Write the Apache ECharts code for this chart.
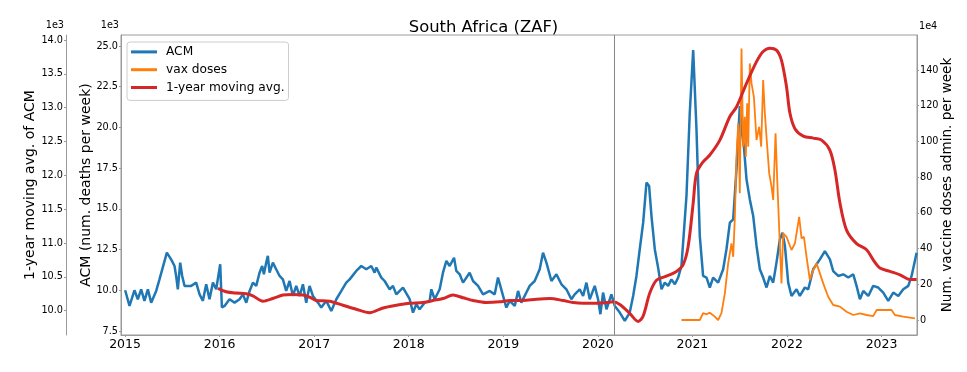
<!DOCTYPE html>
<html><head><meta charset="utf-8">
<script src="https://cdn.jsdelivr.net/npm/echarts@6/dist/echarts.min.js"></script>
<style>html,body{margin:0;padding:0;background:#fff}#c{width:967px;height:372px}</style>
</head><body><div id="c"></div>
<script>
// ---- data (dates as decimal years) ----
const acmT = [2015.001,2015.047,2015.099,2015.135,2015.170,2015.205,2015.241,2015.276,2015.329,2015.364,2015.382,2015.442,2015.487,2015.523,2015.540,2015.558,2015.583,2015.604,2015.629,2015.699,2015.752,2015.788,2015.823,2015.858,2015.893,2015.929,2015.964,2015.985,2016.006,2016.024,2016.052,2016.105,2016.158,2016.211,2016.246,2016.282,2016.317,2016.352,2016.387,2016.422,2016.450,2016.468,2016.493,2016.510,2016.528,2016.563,2016.598,2016.634,2016.669,2016.704,2016.740,2016.775,2016.810,2016.846,2016.881,2016.916,2016.951,2016.987,2017.040,2017.075,2017.128,2017.181,2017.234,2017.287,2017.339,2017.375,2017.445,2017.498,2017.551,2017.604,2017.639,2017.657,2017.710,2017.745,2017.798,2017.833,2017.868,2017.939,2018.010,2018.045,2018.080,2018.115,2018.168,2018.221,2018.239,2018.274,2018.327,2018.362,2018.398,2018.433,2018.479,2018.503,2018.539,2018.574,2018.644,2018.680,2018.733,2018.786,2018.856,2018.909,2018.944,2019.032,2019.068,2019.121,2019.156,2019.191,2019.244,2019.279,2019.332,2019.385,2019.420,2019.456,2019.509,2019.562,2019.615,2019.667,2019.720,2019.755,2019.808,2019.844,2019.879,2019.914,2019.967,2020.002,2020.027,2020.055,2020.091,2020.143,2020.179,2020.232,2020.285,2020.337,2020.373,2020.408,2020.443,2020.479,2020.514,2020.542,2020.567,2020.602,2020.637,2020.673,2020.708,2020.743,2020.778,2020.814,2020.849,2020.884,2020.937,2020.972,2021.008,2021.043,2021.078,2021.113,2021.149,2021.184,2021.219,2021.272,2021.325,2021.360,2021.396,2021.431,2021.466,2021.501,2021.519,2021.544,2021.572,2021.607,2021.643,2021.678,2021.713,2021.748,2021.784,2021.819,2021.854,2021.889,2021.925,2021.953,2021.978,2022.013,2022.048,2022.101,2022.136,2022.189,2022.225,2022.277,2022.348,2022.401,2022.454,2022.489,2022.542,2022.595,2022.648,2022.701,2022.736,2022.771,2022.807,2022.860,2022.912,2022.965,2023.018,2023.071,2023.124,2023.177,2023.230,2023.283,2023.318,2023.371];
const acmV = [10.00,9.04,10.00,9.45,10.06,9.35,10.06,9.24,9.96,10.67,10.57,12.31,11.90,11.49,10.88,10.06,11.70,10.88,10.27,10.27,10.47,9.75,9.35,10.37,9.45,10.47,10.06,9.96,11.60,8.94,9.04,9.45,9.24,9.45,9.75,9.24,9.96,10.47,10.27,11.08,11.49,10.98,11.70,12.11,11.08,11.70,11.29,10.88,10.67,9.96,10.57,9.65,10.27,9.65,10.37,9.24,10.27,9.65,9.24,8.94,9.35,8.73,9.45,9.96,10.47,10.67,11.19,11.49,11.29,11.49,11.08,11.39,10.78,10.57,10.06,10.27,9.75,10.16,9.45,8.63,9.14,8.83,9.24,9.35,10.06,9.45,10.06,11.08,11.80,11.49,12.00,11.19,10.98,10.47,11.08,10.57,10.27,9.75,9.96,9.75,10.78,8.94,9.35,9.04,9.96,9.24,9.86,10.27,10.57,11.29,12.31,11.70,10.57,10.98,10.37,10.06,9.45,9.75,10.06,9.65,10.47,9.45,10.27,9.45,8.53,9.86,8.83,9.75,9.04,8.63,8.12,8.63,9.65,10.88,12.52,14.15,16.61,16.40,14.56,12.52,11.39,10.06,10.47,10.27,10.67,10.37,10.78,11.49,15.79,20.90,24.75,19.87,13.33,10.88,10.78,10.17,10.78,10.47,11.29,12.52,14.15,14.35,17.42,21.31,19.87,18.85,16.81,15.58,14.56,12.72,11.29,10.78,10.17,10.88,10.47,11.70,13.13,13.54,12.72,10.47,9.65,10.06,9.65,10.17,10.06,11.29,11.90,12.41,11.90,11.18,10.88,10.98,10.78,10.98,10.27,9.45,9.96,9.65,10.27,10.17,9.86,9.35,9.86,9.65,10.06,10.27,10.88,12.31];

const vaxT = [2020.884,2021.078,2021.113,2021.149,2021.184,2021.237,2021.272,2021.307,2021.343,2021.378,2021.413,2021.431,2021.449,2021.466,2021.484,2021.494,2021.501,2021.519,2021.537,2021.554,2021.565,2021.579,2021.590,2021.607,2021.625,2021.650,2021.678,2021.706,2021.727,2021.748,2021.766,2021.791,2021.812,2021.837,2021.854,2021.879,2021.897,2021.918,2021.942,2021.960,2021.995,2022.048,2022.084,2022.101,2022.129,2022.154,2022.179,2022.207,2022.242,2022.277,2022.313,2022.348,2022.383,2022.436,2022.489,2022.560,2022.630,2022.701,2022.771,2022.842,2022.912,2022.948,2023.106,2023.141,2023.230,2023.353];
const vaxV = [0,0,3.8,3.2,4.1,1.9,0,3.8,14.9,31.7,42.9,35.4,57.8,91.4,110.0,91.4,71.0,152.0,97.0,113.8,91.4,121.3,97.0,143.7,132.5,125.0,100.8,108.2,97.0,134.4,115.7,97.0,82.1,74.6,67.2,104.5,78.4,50.4,20.5,48.5,46.6,39.2,42.9,48.5,57.8,45.7,46.6,35.4,22.4,28.0,31.7,26.1,20.5,13.0,8.4,7.5,4.6,2.8,3.7,2.8,2.2,5.6,5.6,2.8,1.9,0.9];

const avgT = [2015.982,2016.069,2016.175,2016.281,2016.352,2016.458,2016.563,2016.669,2016.775,2016.881,2016.951,2017.022,2017.163,2017.304,2017.445,2017.586,2017.728,2017.869,2018.010,2018.151,2018.292,2018.363,2018.468,2018.574,2018.680,2018.821,2018.962,2019.068,2019.209,2019.350,2019.491,2019.632,2019.738,2019.844,2019.985,2020.091,2020.161,2020.232,2020.337,2020.426,2020.479,2020.549,2020.620,2020.725,2020.831,2020.902,2020.955,2021.008,2021.043,2021.113,2021.184,2021.290,2021.396,2021.466,2021.572,2021.678,2021.748,2021.819,2021.889,2021.942,2021.995,2022.031,2022.084,2022.172,2022.277,2022.366,2022.454,2022.507,2022.560,2022.630,2022.736,2022.842,2022.912,2022.983,2023.089,2023.195,2023.300,2023.371];
const avgV = [10.33,10.28,10.26,10.25,10.22,10.14,10.18,10.23,10.24,10.23,10.20,10.15,10.14,10.08,10.02,9.97,10.04,10.08,10.11,10.12,10.16,10.18,10.23,10.19,10.15,10.12,10.13,10.15,10.15,10.17,10.18,10.15,10.12,10.11,10.11,10.12,10.13,10.09,9.96,9.84,9.92,10.26,10.45,10.51,10.58,10.68,10.95,11.59,12.03,12.20,12.30,12.52,12.87,13.01,13.36,13.68,13.83,13.88,13.85,13.70,13.31,12.92,12.69,12.58,12.55,12.52,12.37,12.08,11.59,11.19,10.99,10.90,10.75,10.63,10.58,10.53,10.46,10.46];

const years = [2015,2016,2017,2018,2019,2020,2021,2022,2023];
const acmTicks = [7.5,10,12.5,15,17.5,20,22.5,25];
const avgTicks = [10,10.5,11,11.5,12,12.5,13,13.5,14];
const vaxTicks = [0,20,40,60,80,100,120,140];
const covidStart = 2020.168;

function pairs(T,V){return T.map((t,i)=>[t,V[i]]);}

const FONT='DejaVu Sans';
const AX='#9a9a9a';
const TICKFS=9.7;
const chart = echarts.init(document.getElementById('c'), null, {renderer:'canvas'});
const yBase = (extra)=>Object.assign({
  type:'value', splitLine:{show:false},
  axisLine:{show:true,lineStyle:{color:AX,width:1}},
  nameLocation:'middle', nameRotate:90, nameMoveOverlap:false,
  nameTextStyle:{fontFamily:FONT,fontSize:14,color:'#000',lineHeight:14}
},extra);
const lbl = (ticks,fmt)=>({customValues:ticks,formatter:fmt,fontFamily:FONT,fontSize:TICKFS,color:'#000',margin:3});
const tk = (ticks)=>({show:true,length:2,customValues:ticks,lineStyle:{color:AX}});

chart.setOption({
  animation:false,
  backgroundColor:'#fff',
  title:{text:'South Africa (ZAF)',left:'center',top:15,
    textStyle:{fontFamily:FONT,fontSize:16.4,fontWeight:'normal',color:'#000'}},
  grid:{left:121,right:50,top:35,bottom:37,show:true,borderColor:AX,borderWidth:1,
    backgroundColor:'transparent',containLabel:false,outerBoundsMode:'none'},
  legend:{left:127,top:42,orient:'vertical',icon:'rect',itemWidth:26,itemHeight:3,itemGap:0,
    padding:[1,4,4,4],borderColor:'#cccccc',borderWidth:1,borderRadius:3,backgroundColor:'#fff',
    textStyle:{fontFamily:FONT,fontSize:12.2,color:'#000',lineHeight:17.8,padding:[0,0,0,4]},
    data:['ACM','vax doses','1-year moving avg.']},
  graphic:[
    {type:'text',x:64,y:25,style:{text:'1e3',align:'right',verticalAlign:'middle',font:TICKFS+'px "DejaVu Sans"',fill:'#000'}},
    {type:'text',x:119,y:25,style:{text:'1e3',align:'right',verticalAlign:'middle',font:TICKFS+'px "DejaVu Sans"',fill:'#000'}},
    {type:'text',x:919,y:26,style:{text:'1e4',align:'left',verticalAlign:'middle',font:TICKFS+'px "DejaVu Sans"',fill:'#000'}}
  ],
  xAxis:{type:'value',min:2014.957,max:2023.375,splitLine:{show:false},
    axisLine:{onZero:false,lineStyle:{color:AX}},
    axisTick:tk(years),
    axisLabel:{customValues:years,formatter:v=>String(Math.round(v)),
      fontFamily:FONT,fontSize:12.5,color:'#000',margin:3}},
  yAxis:[
    yBase({position:'left',offset:0,min:7.254,max:25.675,name:'ACM (num. deaths per week)',nameGap:28,
      axisLabel:lbl(acmTicks,v=>v.toFixed(1)),axisTick:tk(acmTicks)}),
    yBase({position:'left',offset:55,min:9.64,max:14.074,name:'1-year moving avg. of ACM',nameGap:29,
      axisLabel:lbl(avgTicks,v=>v.toFixed(1)),axisTick:tk(avgTicks)}),
    yBase({position:'right',offset:0,min:-8.4,max:159.6,name:'Num. vaccine doses admin. per week',nameGap:23,
      nameTextStyle:{fontFamily:FONT,fontSize:13.6,color:'#000',lineHeight:14},
      axisLabel:lbl(vaxTicks,v=>String(Math.round(v))),axisTick:tk(vaxTicks)})
  ],
  series:[
    {name:'ACM',type:'line',yAxisIndex:0,data:pairs(acmT,acmV),symbol:'none',
      lineStyle:{width:2.5,color:'#1f77b4'},itemStyle:{color:'#1f77b4'},
      markLine:{silent:true,symbol:['none','none'],label:{show:false},
        lineStyle:{color:'#888',width:1,type:'solid'},data:[{xAxis:covidStart}]}},
    {name:'vax doses',type:'line',yAxisIndex:2,data:pairs(vaxT,vaxV),symbol:'none',
      lineStyle:{width:1.8,color:'#ff7f0e'},itemStyle:{color:'#ff7f0e'}},
    {name:'1-year moving avg.',type:'line',yAxisIndex:1,data:pairs(avgT,avgV),symbol:'none',smooth:0.3,
      lineStyle:{width:3,color:'#d62728'},itemStyle:{color:'#d62728'}}
  ]
});
</script></body></html>
